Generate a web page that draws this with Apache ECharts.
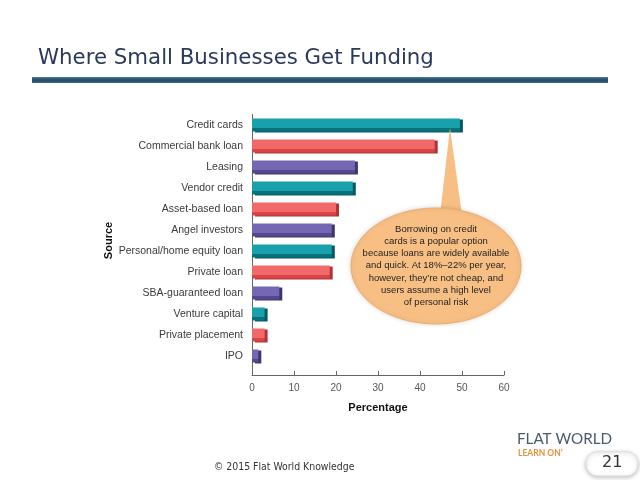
<!DOCTYPE html>
<html>
<head>
<meta charset="utf-8">
<script src="https://cdn.jsdelivr.net/npm/echarts@6/dist/echarts.min.js"></script>
<style>
html,body{margin:0;padding:0;background:#fff;}
#chart{width:640px;height:480px;}
</style>
</head>
<body>
<div id="chart"></div>
<script>
var categories = ['Credit cards','Commercial bank loan','Leasing','Vendor credit','Asset-based loan','Angel investors','Personal/home equity loan','Private loan','SBA-guaranteed loan','Venture capital','Private placement','IPO'];
var values = [49.5, 43.5, 24.5, 24, 20, 19, 19, 18.5, 6.5, 3, 3, 1.5];
var xTicks = [0, 10, 20, 30, 40, 50, 60];
var titleText = 'Where Small Businesses Get Funding';
var calloutLines = ['Borrowing on credit','cards is a popular option','because loans are widely available','and quick. At 18%\u201322% per year,','however, they\u2019re not cheap, and','users assume a high level','of personal risk'];

var palette = [
  {top:'#18a0ab', bot:'#07727c', side:'#055a62'},
  {top:'#f2696a', bot:'#d84547', side:'#b03436'},
  {top:'#7567b4', bot:'#55488f', side:'#3f356d'}
];

var chart = echarts.init(document.getElementById('chart'), null, {renderer:'canvas'});

var barData = values.map(function(v, i){
  var c = palette[i % 3];
  return {
    value: v,
    itemStyle: {
      color: new echarts.graphic.LinearGradient(0,0,0,1,[
        {offset:0, color:c.top},{offset:0.75, color:c.top},{offset:0.76, color:c.bot},{offset:1, color:c.bot}
      ]),
      shadowColor: c.side,
      shadowOffsetX: 3,
      shadowOffsetY: 1,
      shadowBlur: 0
    }
  };
});

var gridTop = 114.5, gridBottom = 113.5, gridLeft = 252, gridRight = 136;

var calloutGraphics = [];
calloutGraphics.push({
  type:'polygon', z: 5,
  shape:{points:[[450,128],[440,215],[462,215]]},
  style:{fill:'#f8bf85', stroke:null}
});
calloutGraphics.push({
  type:'ellipse', z: 6,
  shape:{cx:436, cy:266, rx:85, ry:58},
  style:{fill:'#f8bf85', stroke:'#f0ad6c', lineWidth:1, shadowColor:'rgba(0,0,0,0.15)', shadowBlur:4}
});
calloutGraphics.push({
  type:'text', z: 7,
  x: 436, y: 223,
  style:{
    text: calloutLines.join('\n'),
    fill:'#1e1e1e',
    font:'9.5px "Liberation Sans Narrow", "Liberation Sans", Arial, sans-serif',
    align:'center', verticalAlign:'top', lineHeight:12.2
  }
});

var option = {
  backgroundColor:'#ffffff',
  animation:false,
  grid:{left:gridLeft, right:gridRight, top:gridTop, bottom:gridBottom, containLabel:false},
  xAxis:{
    type:'value', min:xTicks[0], max:xTicks[xTicks.length-1], interval:10,
    offset: 8.5,
    position:'bottom',
    name:'Percentage', nameLocation:'middle', nameGap:27,
    nameTextStyle:{fontFamily:'"Liberation Sans", Arial, sans-serif', fontSize:11, fontWeight:'bold', color:'#111'},
    axisLine:{show:true, lineStyle:{color:'#666', width:1}},
    axisTick:{show:true, inside:true, length:4, lineStyle:{color:'#666'}},
    axisLabel:{margin:8, fontFamily:'"Liberation Sans", Arial, sans-serif', fontSize:10, color:'#555'},
    splitLine:{show:false}
  },
  yAxis:{
    type:'category', data:categories, inverse:true,
    name:'Source', nameLocation:'middle', nameRotate:90, nameGap:136,
    nameTextStyle:{fontFamily:'"Liberation Sans", Arial, sans-serif', fontSize:11, fontWeight:'bold', color:'#111'},
    axisLine:{show:true, lineStyle:{color:'#666', width:1}},
    axisTick:{show:false},
    axisLabel:{margin:9, fontFamily:'"Liberation Sans", Arial, sans-serif', fontSize:10.5, color:'#3a3a3a'}
  },
  series:[{
    type:'bar',
    data: barData,
    barWidth: 13,
    z: 3
  }],
  graphic: [
    {type:'text', left:38, top:48, style:{text:titleText, fill:'#2b3a5c', font:'21.3px "DejaVu Sans", Verdana, sans-serif'}},
    {type:'rect', shape:{x:32, y:77, width:576, height:6},
      style:{fill:new echarts.graphic.LinearGradient(0,0,0,1,[{offset:0,color:'#4f7a92'},{offset:0.5,color:'#1f4a63'},{offset:1,color:'#3d6880'}])}},
    {type:'line', shape:{x1:252.5, y1:366, x2:252.5, y2:375}, style:{stroke:'#666', lineWidth:1}},
    {type:'text', left:214, top:462, style:{text:'\u00a9 2015 Flat World Knowledge', fill:'#333', font:'10.4px "DejaVu Sans Condensed", "DejaVu Sans", sans-serif'}},
    {type:'text', left:517, top:432, style:{text:'FLAT WORLD', fill:'#4c5b6b', font:'15.2px Lato, "Open Sans", sans-serif'}},
    {type:'text', left:518, top:449, style:{text:'LEARN ON\u02bc', fill:'#e8913c', font:'bold 8.5px Lato, "Open Sans", sans-serif'}},
    {type:'rect', shape:{x:586, y:452, width:52, height:24, r:12}, style:{fill:'#fff', stroke:'#e0e0e0', shadowColor:'rgba(0,0,0,0.25)', shadowBlur:4, shadowOffsetY:1}},
    {type:'text', left:602, top:455, style:{text:'21', fill:'#333', font:'16px "DejaVu Sans", sans-serif'}}
  ].concat(calloutGraphics)
};
chart.setOption(option);
</script>
</body>
</html>
